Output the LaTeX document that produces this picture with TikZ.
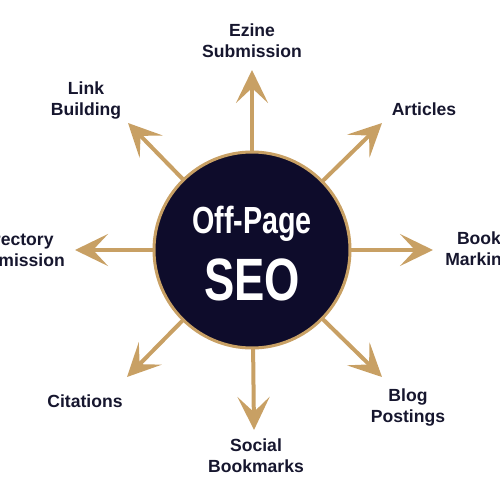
\documentclass[tikz,border=0pt]{standalone}
\usepackage{fontspec}
\setmainfont{Liberation Sans}
\newfontfamily\hubfont[FakeStretch=0.76]{Liberation Sans}
\usetikzlibrary{arrows.meta,backgrounds}
\definecolor{gold}{HTML}{C8A064}
\definecolor{navy}{HTML}{0E0C2B}
\definecolor{ink}{HTML}{16162E}
\tikzset{
  hub/.style={circle, draw=gold, line width=0.6mm, fill=navy,
              minimum size=39.2mm, inner sep=0pt},
  hubsmall/.style={text=white, inner sep=0pt, anchor=base,
                   font=\hubfont\bfseries\fontsize{21.5}{24}\selectfont},
  hubbig/.style={text=white, inner sep=0pt, anchor=base,
                 font=\hubfont\bfseries\fontsize{34}{36}\selectfont},
  lbl/.style={text=ink, align=center, inner sep=0pt, anchor=base,
              font=\bfseries\fontsize{10}{11.9}\selectfont},
  spoke/.style={-{Stealth[length=6.6mm, width=6.4mm, inset=3mm]},
                line width=0.8mm, draw=gold},
}

\begin{document}
\begin{tikzpicture}[x=0.2mm, y=-0.2mm]
  \useasboundingbox (0,0) rectangle (500,500);
  \clip (0,0) rectangle (500,500);

  % ============ the hub ============
  \node[hub] (seo) at (252,250) {};
  \node[hubsmall] (offpage) at (252,233) {Off-Page};
  \node[hubbig] (seotxt) at (252,300) {SEO};

  % ============ spoke ends ============
  \coordinate (tEzine)    at (252,70);
  \coordinate (tArticles) at (382,123);
  \coordinate (tBook)     at (433,250);
  \coordinate (tBlog)     at (382,377);
  \coordinate (tSocial)   at (254,430);
  \coordinate (tCite)     at (127,377);
  \coordinate (tDir)      at (75,250);
  \coordinate (tLink)     at (128,123);

  % ============ labels (base = last line) ============
  \node[lbl] (ezine) at (252,57) {Ezine\\ Submission};
  \node[lbl] (articles) at (424,115) {Articles};
  \node[lbl] (book) at (479,265) {Book\\ Marking};
  \node[lbl] (blog) at (408,422) {Blog\\ Postings};
  \node[lbl] (social) at (256,472) {Social\\ Bookmarks};
  \node[lbl] (cite) at (85,407) {Citations};
  \node[lbl] (dir) at (15,266) {Directory\\ Submission};
  \node[lbl] (link) at (86,115) {Link\\ Building};

  % ============ spokes, behind the hub ============
  \begin{scope}[on background layer]
    \draw[spoke] (seo.center) -- (tEzine);
    \draw[spoke] (seo.center) -- (tArticles);
    \draw[spoke] (seo.center) -- (tBook);
    \draw[spoke] (seo.center) -- (tBlog);
    \draw[spoke] (seo.center) -- (tSocial);
    \draw[spoke] (seo.center) -- (tCite);
    \draw[spoke] (seo.center) -- (tDir);
    \draw[spoke] (seo.center) -- (tLink);
  \end{scope}

\end{tikzpicture}
\end{document}
